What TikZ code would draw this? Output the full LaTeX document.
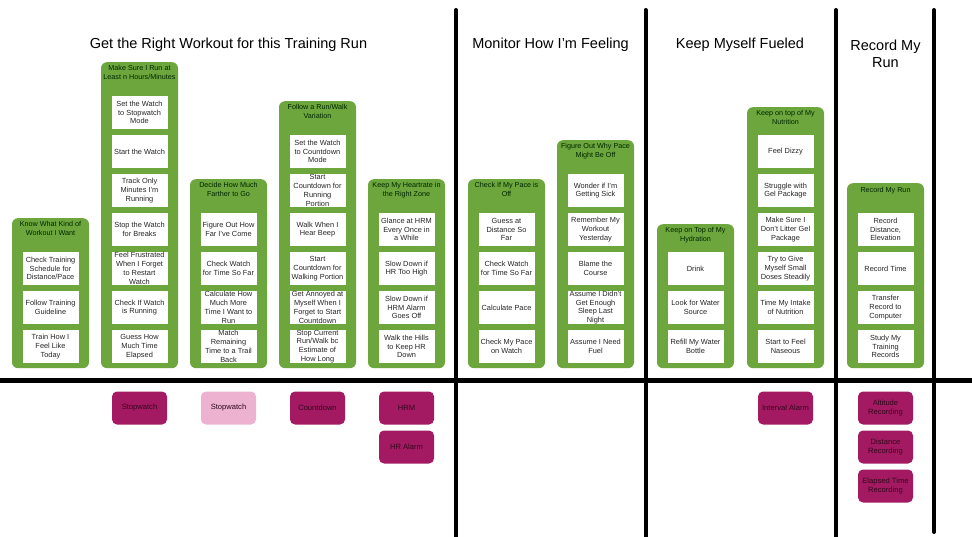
\documentclass[tikz,border=0pt]{standalone}
\usepackage{fontspec}
\setmainfont{Liberation Sans}
\definecolor{lanegreen}{RGB}{108,166,60}
\definecolor{toolpink}{RGB}{163,26,98}
\definecolor{toolpale}{RGB}{236,178,208}
\definecolor{tooltext}{RGB}{50,8,28}
\tikzset{
  lane/.style={fill=lanegreen, rounded corners=6pt, minimum width=77pt, anchor=north, inner sep=0pt},
  lanetitle/.style={anchor=north, align=center, inner sep=0pt, text=black!85!green, font=\fontsize{7.2}{9}\selectfont},
  card/.style={fill=white, minimum width=56pt, minimum height=33pt, inner sep=0pt, align=center, text=black!85, font=\fontsize{7.4}{8.8}\selectfont},
  tool/.style={fill=toolpink, rounded corners=5pt, minimum width=55pt, minimum height=33pt, inner sep=0pt, align=center, text=tooltext, font=\fontsize{7.6}{9}\selectfont},
  heading/.style={align=center, inner sep=0pt, font=\fontsize{14.5}{17}\selectfont},
  divider/.style={line width=4pt, line cap=round}
}

\begin{document}
\begin{tikzpicture}[x=1pt, y=-1pt]
  %%%%% START %%%%%
  \useasboundingbox (0,0) rectangle (972,537);

  % headings
  \node[heading] (h1) at (228.5, 45) {Get the Right Workout for this Training Run};
  \node[heading] (h2) at (550.5, 45) {Monitor How I'm Feeling};
  \node[heading] (h3) at (740, 45) {Keep Myself Fueled};
  \node[heading] (h4) at (885.5, 53.5) {Record My\\Run};

  % dividers
  \draw[divider] (456, 10) -- (456, 537);
  \draw[divider] (645.5, 10) -- (645.5, 537);
  \draw[divider] (836, 10) -- (836, 537);
  \draw[divider] (934, 10) -- (934, 532);
  \draw[line width=5pt] (0, 380) -- (972, 380);

  % Know What Kind of Workout
  \node[lane, minimum height=150pt] (g1) at (50.5, 218) {};
  \node[lanetitle] (t1) at (50.5, 221.5) {Know What Kind of\\Workout I Want};
  \foreach \txt [count=\i] in {{Check Training\\Schedule for\\Distance/Pace}, {Follow Training\\Guideline}, {Train How I\\Feel Like\\Today}}
    \node[card] (c1-\i) at (50.5, {346.5-39*(3-\i)}) {\txt};

  % Make Sure I Run
  \node[lane, minimum height=306pt] (g2) at (139.5, 62) {};
  \node[lanetitle] (t2) at (139.5, 65.5) {Make Sure I Run at\\Least n Hours/Minutes};
  \foreach \txt [count=\i] in {{Set the Watch\\to Stopwatch\\Mode}, {Start the Watch}, {Track Only\\Minutes I'm\\Running}, {Stop the Watch\\for Breaks}, {Feel Frustrated\\When I Forget\\to Restart\\Watch}, {Check If Watch\\is Running}, {Guess How\\Much Time\\Elapsed}}
    \node[card] (c2-\i) at (139.5, {346.5-39*(7-\i)}) {\txt};

  % Decide How Much Farther
  \node[lane, minimum height=189pt] (g3) at (228.5, 179) {};
  \node[lanetitle] (t3) at (228.5, 182.5) {Decide How Much\\Farther to Go};
  \foreach \txt [count=\i] in {{Figure Out How\\Far I've Come}, {Check Watch\\for Time So Far}, {Calculate How\\Much More\\Time I Want to\\Run}, {Match\\Remaining\\Time to a Trail\\Back}}
    \node[card] (c3-\i) at (228.5, {346.5-39*(4-\i)}) {\txt};

  % Follow a Run/Walk
  \node[lane, minimum height=267pt] (g4) at (317.5, 101) {};
  \node[lanetitle] (t4) at (317.5, 104.5) {Follow a Run/Walk\\Variation};
  \foreach \txt [count=\i] in {{Set the Watch\\to Countdown\\Mode}, {Start\\Countdown for\\Running\\Portion}, {Walk When I\\Hear Beep}, {Start\\Countdown for\\Walking Portion}, {Get Annoyed at\\Myself When I\\Forget to Start\\Countdown}, {Stop Current\\Run/Walk bc\\Estimate of\\How Long}}
    \node[card] (c4-\i) at (317.5, {346.5-39*(6-\i)}) {\txt};

  % Keep My Heartrate
  \node[lane, minimum height=189pt] (g5) at (406.5, 179) {};
  \node[lanetitle] (t5) at (406.5, 182.5) {Keep My Heartrate in\\the Right Zone};
  \foreach \txt [count=\i] in {{Glance at HRM\\Every Once in\\a While}, {Slow Down if\\HR Too High}, {Slow Down if\\HRM Alarm\\Goes Off}, {Walk the Hills\\to Keep HR\\Down}}
    \node[card] (c5-\i) at (406.5, {346.5-39*(4-\i)}) {\txt};

  % Check If My Pace is Off
  \node[lane, minimum height=189pt] (g6) at (506.5, 179) {};
  \node[lanetitle] (t6) at (506.5, 182.5) {Check If My Pace is\\Off};
  \foreach \txt [count=\i] in {{Guess at\\Distance So\\Far}, {Check Watch\\for Time So Far}, {Calculate Pace}, {Check My Pace\\on Watch}}
    \node[card] (c6-\i) at (506.5, {346.5-39*(4-\i)}) {\txt};

  % Figure Out Why
  \node[lane, minimum height=228pt] (g7) at (595.5, 140) {};
  \node[lanetitle] (t7) at (595.5, 143.5) {Figure Out Why Pace\\Might Be Off};
  \foreach \txt [count=\i] in {{Wonder if I'm\\Getting Sick}, {Remember My\\Workout\\Yesterday}, {Blame the\\Course}, {Assume I Didn't\\Get Enough\\Sleep Last\\Night}, {Assume I Need\\Fuel}}
    \node[card] (c7-\i) at (595.5, {346.5-39*(5-\i)}) {\txt};

  % Hydration
  \node[lane, minimum height=144pt] (g8) at (695.5, 224) {};
  \node[lanetitle] (t8) at (695.5, 227.5) {Keep on Top of My\\Hydration};
  \foreach \txt [count=\i] in {{Drink}, {Look for Water\\Source}, {Refill My Water\\Bottle}}
    \node[card] (c8-\i) at (695.5, {346.5-39*(3-\i)}) {\txt};

  % Nutrition
  \node[lane, minimum height=261pt] (g9) at (785.5, 107) {};
  \node[lanetitle] (t9) at (785.5, 110.5) {Keep on top of My\\Nutrition};
  \foreach \txt [count=\i] in {{Feel Dizzy}, {Struggle with\\Gel Package}, {Make Sure I\\Don't Litter Gel\\Package}, {Try to Give\\Myself Small\\Doses Steadily}, {Time My Intake\\of Nutrition}, {Start to Feel\\Naseous}}
    \node[card] (c9-\i) at (785.5, {346.5-39*(6-\i)}) {\txt};

  % Record My Run
  \node[lane, minimum height=185pt] (g10) at (885.5, 183) {};
  \node[lanetitle] (t10) at (885.5, 187) {Record My Run};
  \foreach \txt [count=\i] in {{Record\\Distance,\\Elevation}, {Record Time}, {Transfer\\Record to\\Computer}, {Study My\\Training\\Records}}
    \node[card] (c10-\i) at (885.5, {346.5-39*(4-\i)}) {\txt};

  % tools
  \node[tool] (stopwatch) at (139.5, 408) {Stopwatch};
  \node[tool, fill=toolpale] (stopwatch2) at (228.5, 408) {Stopwatch};
  \node[tool] (countdown) at (317.5, 408) {Countdown};
  \node[tool] (hrm) at (406.5, 408) {HRM};
  \node[tool] (hralarm) at (406.5, 447) {HR Alarm};
  \node[tool] (interval) at (785.5, 408) {Interval Alarm};
  \node[tool] (altitude) at (885.5, 408) {Altitude\\Recording};
  \node[tool] (distance) at (885.5, 447) {Distance\\Recording};
  \node[tool] (elapsed) at (885.5, 486) {Elapsed Time\\Recording};
  %%%%% END %%%%%
\end{tikzpicture}
\end{document}
